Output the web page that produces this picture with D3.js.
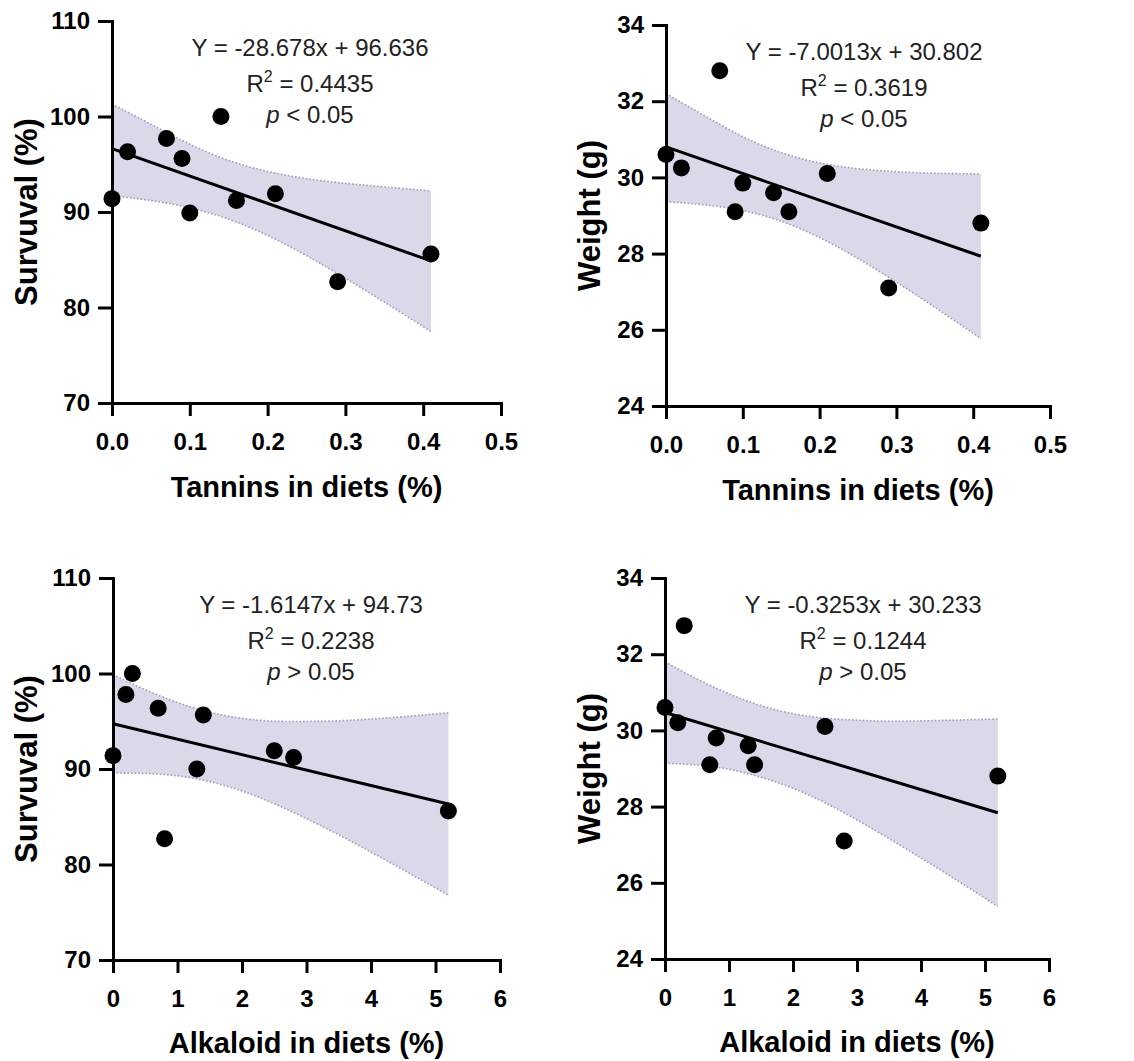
<!DOCTYPE html>
<html>
<head>
<meta charset="utf-8">
<script src="https://cdn.jsdelivr.net/npm/d3@7"></script>
<style>
  body { margin: 0; background: #fff; }
  svg { display: block; font-family: "Liberation Sans", Arial, sans-serif; }
  .axis path, .axis line { stroke: #000; stroke-width: 3px; }
  .axis text { font-family: "Liberation Sans", Arial, sans-serif; font-size: 24px; font-weight: bold; fill: #000; }
  .axisTitle { font-size: 29px; font-weight: bold; fill: #000; }
  .note { font-size: 24px; fill: #222; }
</style>
</head>
<body>
<div id="chart"></div>
<script>
// data
var tanninX = [0, 0.02, 0.07, 0.09, 0.10, 0.14, 0.16, 0.21, 0.29, 0.41];
var survivalTannin = [91.4, 96.3, 97.7, 95.6, 89.9, 100, 91.2, 91.9, 82.7, 85.6];
var weightTannin = [30.6, 30.25, 32.8, 29.1, 29.85, 29.6, 29.1, 30.1, 27.1, 28.8];

var alkaloidX = [0, 0.2, 0.3, 0.7, 0.8, 1.3, 1.4, 2.5, 2.8, 5.2];
var survivalAlkaloid = [91.4, 97.8, 100, 96.35, 82.7, 90, 95.65, 91.9, 91.2, 85.6];
var weightAlkaloid = [30.6, 30.2, 32.75, 29.1, 29.8, 29.6, 29.1, 30.1, 27.1, 28.8];

// fitted lines (ends)
var tanninFitX = [0, 0.41];
var fitSurvivalTannin = [96.64, 84.88];
var fitWeightTannin = [30.80, 27.93];
var alkaloidFitX = [0, 5.2];
var fitSurvivalAlkaloid = [94.73, 86.33];
var fitWeightAlkaloid = [30.47, 27.84];

// 95% bands
var tanninBandX = [0, 0.05, 0.1, 0.15, 0.2, 0.25, 0.3, 0.35, 0.41];
var survTUpper = [101.3, 99.2, 97.1, 95.4, 94.25, 93.5, 93.0, 92.63, 92.2];
var survTLower = [91.7, 91.2, 90.44, 89.25, 87.55, 85.43, 83.06, 80.57, 77.47];
var weightTUpper = [32.2, 31.62, 31.07, 30.65, 30.38, 30.23, 30.15, 30.11, 30.09];
var weightTLower = [29.36, 29.28, 29.13, 28.85, 28.42, 27.87, 27.25, 26.59, 25.77];

var alkaloidBandX = [0, 0.5, 1, 1.5, 2, 2.5, 3, 3.5, 4, 4.5, 5.2];
var survAUpper = [99.88, 98.31, 96.96, 95.94, 95.31, 95.01, 94.98, 95.05, 95.24, 95.48, 95.88];
var survALower = [89.58, 89.53, 89.28, 88.68, 87.69, 86.37, 84.8, 83.11, 81.3, 79.44, 76.78];
var weightAUpper = [31.8, 31.35, 30.96, 30.65, 30.44, 30.32, 30.27, 30.24, 30.25, 30.27, 30.3];
var weightALower = [29.14, 29.09, 28.98, 28.77, 28.48, 28.1, 27.65, 27.16, 26.65, 26.13, 25.38];

// labels
var equations = ["Y = -28.678x + 96.636", "Y = -7.0013x + 30.802", "Y = -1.6147x + 94.73", "Y = -0.3253x + 30.233"];
var r2Values = ["0.4435", "0.3619", "0.2238", "0.1244"];
var pTexts = ["< 0.05", "< 0.05", "> 0.05", "> 0.05"];
var xTitles = ["Tannins in diets (%)", "Tannins in diets (%)", "Alkaloid in diets (%)", "Alkaloid in diets (%)"];
var yTitles = ["Survuval (%)", "Weight (g)", "Survuval (%)", "Weight (g)"];
var survivalTicks = [70, 80, 90, 100, 110];
var weightTicks = [24, 26, 28, 30, 32, 34];
var tanninTicks = [0, 0.1, 0.2, 0.3, 0.4, 0.5];
var alkaloidTicks = [0, 1, 2, 3, 4, 5, 6];

var svg = d3.select("#chart").append("svg")
  .attr("width", 1134)
  .attr("height", 1061);

var panels = [
  {box: [112, 501, 21, 403], xDom: [0, 0.5], yDom: [70, 110], xTicks: tanninTicks, yTicks: survivalTicks, fmt: d3.format(".1f"),
   x: tanninX, y: survivalTannin, fitX: tanninFitX, fitY: fitSurvivalTannin, bandX: tanninBandX, up: survTUpper, lo: survTLower, yTitleX: 37},
  {box: [666, 1050, 25, 406], xDom: [0, 0.5], yDom: [24, 34], xTicks: tanninTicks, yTicks: weightTicks, fmt: d3.format(".1f"),
   x: tanninX, y: weightTannin, fitX: tanninFitX, fitY: fitWeightTannin, bandX: tanninBandX, up: weightTUpper, lo: weightTLower, yTitleX: 600},
  {box: [113, 500, 578, 960], xDom: [0, 6], yDom: [70, 110], xTicks: alkaloidTicks, yTicks: survivalTicks, fmt: d3.format("d"),
   x: alkaloidX, y: survivalAlkaloid, fitX: alkaloidFitX, fitY: fitSurvivalAlkaloid, bandX: alkaloidBandX, up: survAUpper, lo: survALower, yTitleX: 37},
  {box: [665, 1049, 578, 959], xDom: [0, 6], yDom: [24, 34], xTicks: alkaloidTicks, yTicks: weightTicks, fmt: d3.format("d"),
   x: alkaloidX, y: weightAlkaloid, fitX: alkaloidFitX, fitY: fitWeightAlkaloid, bandX: alkaloidBandX, up: weightAUpper, lo: weightALower, yTitleX: 600}
];

panels.forEach(function(p, i) {
  var left = p.box[0], right = p.box[1], top = p.box[2], bottom = p.box[3];
  var xScale = d3.scaleLinear().domain(p.xDom).range([left, right]);
  var yScale = d3.scaleLinear().domain(p.yDom).range([bottom, top]);
  var g = svg.append("g");

  // confidence band
  var band = p.bandX.map(function(v, k) { return {x: v, up: p.up[k], lo: p.lo[k]}; });
  g.append("path")
    .datum(band)
    .attr("fill", "#d9d9e9")
    .attr("d", d3.area().curve(d3.curveNatural)
      .x(d => xScale(d.x)).y0(d => yScale(d.lo)).y1(d => yScale(d.up)));
  ["up", "lo"].forEach(function(key) {
    g.append("path")
      .datum(band)
      .attr("fill", "none")
      .attr("stroke", "#9d9dbd")
      .attr("stroke-width", 1.6)
      .attr("stroke-dasharray", "1.6,2")
      .attr("d", d3.line().curve(d3.curveNatural).x(d => xScale(d.x)).y(d => yScale(d[key])));
  });

  // fit line
  g.append("path")
    .datum(p.fitX.map((v, k) => [v, p.fitY[k]]))
    .attr("fill", "none")
    .attr("stroke", "#000")
    .attr("stroke-width", 3)
    .attr("d", d3.line().x(d => xScale(d[0])).y(d => yScale(d[1])));

  // axes
  g.append("g")
    .attr("class", "axis")
    .attr("transform", `translate(0, ${bottom})`)
    .call(d3.axisBottom(xScale).tickValues(p.xTicks).tickFormat(p.fmt).tickSize(13).tickSizeOuter(0).tickPadding(17));
  g.append("g")
    .attr("class", "axis")
    .attr("transform", `translate(${left}, 0)`)
    .call(d3.axisLeft(yScale).tickValues(p.yTicks).tickSize(14).tickSizeOuter(0).tickPadding(8));
  g.selectAll(".axis .domain").attr("stroke-linecap", "square");

  // points
  g.selectAll("circle.pt")
    .data(p.x.map((v, k) => [v, p.y[k]]))
    .enter().append("circle")
    .attr("class", "pt")
    .attr("cx", d => xScale(d[0]))
    .attr("cy", d => yScale(d[1]))
    .attr("r", 8.5)
    .attr("fill", "#000");

  // titles
  g.append("text")
    .attr("class", "axisTitle")
    .attr("x", (left + right) / 2)
    .attr("y", i < 2 ? bottom + 94 : bottom + 93)
    .attr("text-anchor", "middle")
    .text(xTitles[i]);
  g.append("text")
    .attr("class", "axisTitle")
    .attr("transform", `translate(${p.yTitleX}, ${(top + bottom) / 2}) rotate(-90)`)
    .attr("text-anchor", "middle")
    .style("font-size", "31px")
    .text(yTitles[i]);

  // equation block
  var cx = left + 198;
  g.append("text").attr("class", "note")
    .attr("x", cx).attr("y", top + 35)
    .attr("text-anchor", "middle")
    .text(equations[i]);
  var r2 = g.append("text").attr("class", "note")
    .attr("x", cx).attr("y", top + 71)
    .attr("text-anchor", "middle");
  r2.append("tspan").text("R");
  r2.append("tspan").attr("dy", -10).style("font-size", "16px").text("2");
  r2.append("tspan").attr("dy", 10).text(" = " + r2Values[i]);
  var pt = g.append("text").attr("class", "note")
    .attr("x", cx).attr("y", top + 102)
    .attr("text-anchor", "middle");
  pt.append("tspan").style("font-style", "italic").text("p");
  pt.append("tspan").text(" " + pTexts[i]);
});
</script>
</body>
</html>
